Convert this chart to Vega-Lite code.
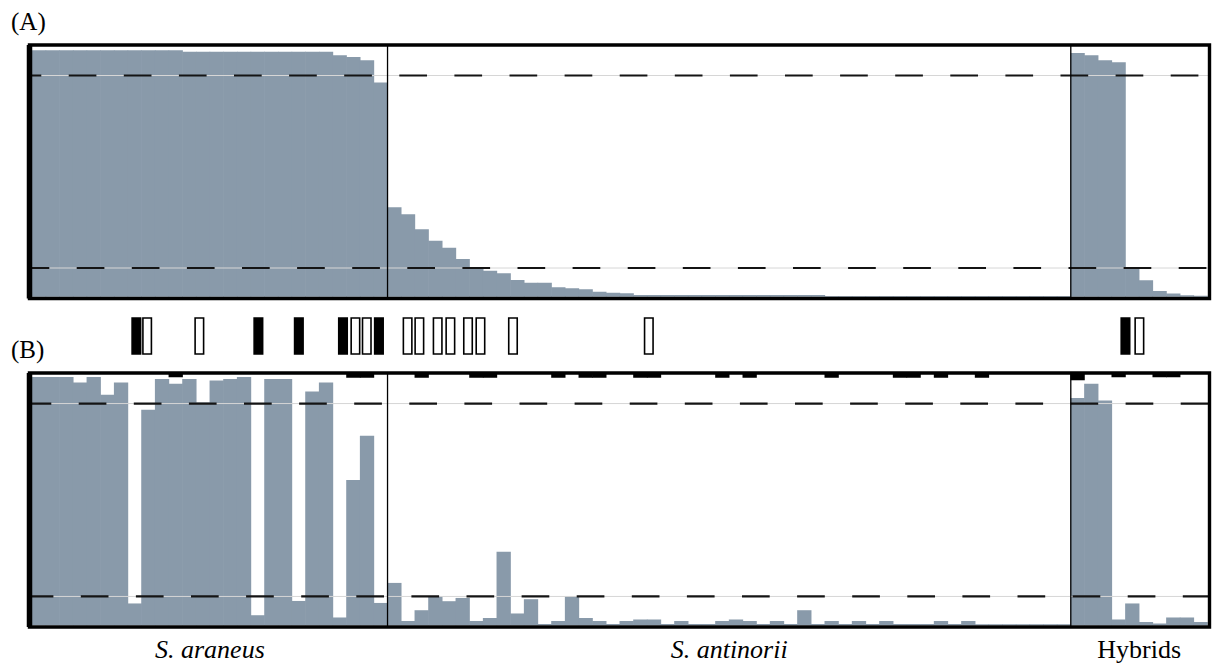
{
  "$schema": "https://vega.github.io/schema/vega-lite/v6.json",
  "background": "white",
  "padding": {"left": 10.5, "top": 10, "right": 2, "bottom": 0},
  "bounds": "flush",
  "spacing": 19,
  "config": {"view": {"stroke": null}},
  "datasets": {
    "A": [
      {"i":0,"q":0.986},{"i":1,"q":0.986},{"i":2,"q":0.986},{"i":3,"q":0.986},{"i":4,"q":0.986},{"i":5,"q":0.986},{"i":6,"q":0.986},{"i":7,"q":0.986},{"i":8,"q":0.986},{"i":9,"q":0.986},{"i":10,"q":0.986},
      {"i":11,"q":0.98},{"i":12,"q":0.98},{"i":13,"q":0.98},{"i":14,"q":0.98},{"i":15,"q":0.98},{"i":16,"q":0.98},{"i":17,"q":0.98},{"i":18,"q":0.98},{"i":19,"q":0.98},{"i":20,"q":0.98},{"i":21,"q":0.98},
      {"i":22,"q":0.966},{"i":23,"q":0.959},{"i":24,"q":0.946},{"i":25,"q":0.857},
      {"i":26,"q":0.358},{"i":27,"q":0.33},{"i":28,"q":0.27},{"i":29,"q":0.224},{"i":30,"q":0.196},{"i":31,"q":0.151},{"i":32,"q":0.114},{"i":33,"q":0.104},{"i":34,"q":0.094},{"i":35,"q":0.067},{"i":36,"q":0.056},{"i":37,"q":0.056},{"i":38,"q":0.038},{"i":39,"q":0.034},{"i":40,"q":0.03},{"i":41,"q":0.02},{"i":42,"q":0.016},{"i":43,"q":0.014},
      {"i":44,"q":0.007},{"i":45,"q":0.007},{"i":46,"q":0.007},{"i":47,"q":0.007},{"i":48,"q":0.007},{"i":49,"q":0.007},{"i":50,"q":0.007},{"i":51,"q":0.007},{"i":52,"q":0.007},{"i":53,"q":0.007},{"i":54,"q":0.007},{"i":55,"q":0.007},{"i":56,"q":0.007},{"i":57,"q":0.007},
      {"i":58,"q":0.003},{"i":59,"q":0.003},{"i":60,"q":0.003},{"i":61,"q":0.003},{"i":62,"q":0.003},{"i":63,"q":0.003},{"i":64,"q":0.003},{"i":65,"q":0.003},{"i":66,"q":0.003},{"i":67,"q":0.003},{"i":68,"q":0.003},{"i":69,"q":0.003},{"i":70,"q":0.003},{"i":71,"q":0.003},{"i":72,"q":0.003},{"i":73,"q":0.003},{"i":74,"q":0.003},{"i":75,"q":0.003},
      {"i":76,"q":0.975},{"i":77,"q":0.966},{"i":78,"q":0.946},{"i":79,"q":0.938},{"i":80,"q":0.119},{"i":81,"q":0.066},{"i":82,"q":0.023},{"i":83,"q":0.013},{"i":84,"q":0.006},{"i":85,"q":0.004}
    ],
    "B": [
      {"i":0,"q":0.991},{"i":1,"q":0.991},{"i":2,"q":0.991},{"i":3,"q":0.969},{"i":4,"q":0.991},{"i":5,"q":0.92},{"i":6,"q":0.969},{"i":7,"q":0.087},{"i":8,"q":0.86},{"i":9,"q":0.983},
      {"i":10,"q":0.964,"kc":0.99},{"i":11,"q":0.983},{"i":12,"q":0.889},{"i":13,"q":0.977},{"i":14,"q":0.983},{"i":15,"q":0.991},{"i":16,"q":0.04},{"i":17,"q":0.983},{"i":18,"q":0.983},{"i":19,"q":0.097},
      {"i":20,"q":0.933},{"i":21,"q":0.969},{"i":22,"q":0.031},{"i":23,"q":0.58,"kc":0.988},{"i":24,"q":0.756,"kc":0.988},{"i":25,"q":0.089},
      {"i":26,"q":0.169},{"i":27,"q":0.017},{"i":28,"q":0.06,"kc":0.988},{"i":29,"q":0.116},{"i":30,"q":0.096},{"i":31,"q":0.109},{"i":32,"q":0.017,"kc":0.988},{"i":33,"q":0.029,"kc":0.988},{"i":34,"q":0.293},{"i":35,"q":0.047},
      {"i":36,"q":0.104},{"i":37,"q":0.005},{"i":38,"q":0.017,"kc":0.988},{"i":39,"q":0.116},{"i":40,"q":0.029,"kc":0.988},{"i":41,"q":0.017,"kc":0.988},{"i":42,"q":0.005},{"i":43,"q":0.017},{"i":44,"q":0.023,"kc":0.988},{"i":45,"q":0.023,"kc":0.988},
      {"i":46,"q":0.005},{"i":47,"q":0.017},{"i":48,"q":0.005},{"i":49,"q":0.005},{"i":50,"q":0.017,"kc":0.988},{"i":51,"q":0.023},{"i":52,"q":0.017,"kc":0.988},{"i":53,"q":0.005},{"i":54,"q":0.017},{"i":55,"q":0.005},
      {"i":56,"q":0.06},{"i":57,"q":0.005},{"i":58,"q":0.017,"kc":0.988},{"i":59,"q":0.005},{"i":60,"q":0.017},{"i":61,"q":0.005},{"i":62,"q":0.017},{"i":63,"q":0.005,"kc":0.988},{"i":64,"q":0.005,"kc":0.988},{"i":65,"q":0.005},
      {"i":66,"q":0.017,"kc":0.988},{"i":67,"q":0.005},{"i":68,"q":0.017},{"i":69,"q":0.004,"kc":0.988},{"i":70,"q":0.004},{"i":71,"q":0.004},{"i":72,"q":0.004},{"i":73,"q":0.004},{"i":74,"q":0.004},{"i":75,"q":0.004},
      {"i":76,"q":0.907,"kc":0.978},{"i":77,"q":0.964},{"i":78,"q":0.897},{"i":79,"q":0.023,"kc":0.99},{"i":80,"q":0.087},{"i":81,"q":0.013},{"i":82,"q":0.007,"kc":0.99},{"i":83,"q":0.031,"kc":0.99},{"i":84,"q":0.031},{"i":85,"q":0.013}
    ],
    "M": [
      {"pos":7.12,"type":"filled"},{"pos":7.91,"type":"open"},{"pos":11.73,"type":"open"},{"pos":16.05,"type":"filled"},{"pos":19.01,"type":"filled"},
      {"pos":22.24,"type":"filled"},{"pos":23.15,"type":"open"},{"pos":23.98,"type":"open"},{"pos":24.87,"type":"filled"},
      {"pos":26.97,"type":"open"},{"pos":27.83,"type":"open"},{"pos":29.17,"type":"open"},{"pos":30.1,"type":"open"},{"pos":31.39,"type":"open"},{"pos":32.3,"type":"open"},
      {"pos":34.68,"type":"open"},{"pos":44.62,"type":"open"},{"pos":79.5,"type":"filled"},{"pos":80.52,"type":"open"}
    ],
    "L": [
      {"c":12.5,"label":"S. araneus","group":"species"},
      {"c":50.5,"label":"S. antinorii","group":"species"},
      {"c":80.5,"label":"Hybrids","group":"hybrid"}
    ]
  },
  "vconcat": [
    {
      "width": 1180,
      "height": 253.5,
      "layer": [
        {
          "data": {"name": "A"},
          "mark": {"type": "bar", "color": "#899aaa", "width": 14.3, "orient": "vertical"},
          "encoding": {
            "x": {"field": "i", "type": "quantitative", "scale": {"domain": [-0.7, 85.65], "nice": false, "zero": false, "padding": 0}, "axis": null},
            "y": {"field": "q", "type": "quantitative", "scale": {"domain": [-0.007, 1.007], "nice": false, "zero": false}, "axis": null}
          }
        },
        {"data": {"values": [{}]}, "mark": {"type": "rule", "color": "#d6d6d6", "strokeWidth": 1}, "encoding": {"y": {"datum": 0.885, "type": "quantitative", "axis": null}}},
        {"data": {"values": [{}]}, "mark": {"type": "rule", "color": "#d6d6d6", "strokeWidth": 1}, "encoding": {"y": {"datum": 0.115, "type": "quantitative", "axis": null}}},
        {"data": {"values": [{}]}, "mark": {"type": "rule", "color": "#141414", "strokeWidth": 2.2, "strokeDash": [27.7, 27.4], "strokeDashOffset": 44}, "encoding": {"y": {"datum": 0.885, "type": "quantitative", "axis": null}}},
        {"data": {"values": [{}]}, "mark": {"type": "rule", "color": "#141414", "strokeWidth": 2.2, "strokeDash": [27.7, 27.4], "strokeDashOffset": 52}, "encoding": {"y": {"datum": 0.115, "type": "quantitative", "axis": null}}},
        {"data": {"values": [{}]}, "mark": {"type": "rule", "color": "black", "strokeWidth": 1.3}, "encoding": {"x": {"datum": 25.5, "type": "quantitative", "axis": null}}},
        {"data": {"values": [{}]}, "mark": {"type": "rule", "color": "black", "strokeWidth": 1.3}, "encoding": {"x": {"datum": 75.5, "type": "quantitative", "axis": null}}},
        {"data": {"values": [{}]}, "mark": {"type": "rect", "fill": "transparent", "stroke": "black", "strokeWidth": 3.4}, "encoding": {"x": {"datum": -0.7, "type": "quantitative", "axis": null}, "x2": {"datum": 85.65}, "y": {"datum": -0.007, "type": "quantitative", "axis": null}, "y2": {"datum": 1.007}}},
        {"data": {"values": [{}]}, "mark": {"type": "rule", "color": "black", "strokeWidth": 5.5}, "encoding": {"x": {"datum": -0.7, "type": "quantitative", "axis": null}}},
        {"data": {"values": [{}]}, "mark": {"type": "text", "text": "(A)", "align": "left", "baseline": "alphabetic", "font": "Liberation Serif", "fontSize": 25, "color": "black", "dx": -18.5, "dy": -15}, "encoding": {"x": {"datum": -0.7, "type": "quantitative", "axis": null}, "y": {"datum": 1.007, "type": "quantitative", "axis": null}}}
      ]
    },
    {
      "width": 1180,
      "height": 36,
      "layer": [
        {
          "data": {"name": "M"},
          "mark": {"type": "bar", "width": 8.5, "stroke": "black", "strokeWidth": 1.6, "orient": "vertical"},
          "encoding": {
            "x": {"field": "pos", "type": "quantitative", "scale": {"domain": [-0.7, 85.65], "nice": false, "zero": false, "padding": 0}, "axis": null},
            "y": {"datum": 0, "type": "quantitative", "scale": {"domain": [0, 1], "nice": false}, "axis": null},
            "y2": {"datum": 1},
            "fill": {"field": "type", "type": "nominal", "scale": {"domain": ["filled", "open"], "range": ["black", "white"]}, "legend": null}
          }
        },
        {"data": {"values": [{}]}, "mark": {"type": "text", "text": "(B)", "align": "left", "baseline": "alphabetic", "font": "Liberation Serif", "fontSize": 25, "color": "black", "dx": -18.5, "dy": 4}, "encoding": {"x": {"datum": -0.7, "type": "quantitative", "axis": null}, "y": {"datum": 0, "type": "quantitative", "axis": null}}}
      ]
    },
    {
      "width": 1180,
      "height": 254,
      "layer": [
        {
          "data": {"name": "B"},
          "mark": {"type": "bar", "color": "#899aaa", "width": 14.3, "orient": "vertical"},
          "encoding": {
            "x": {"field": "i", "type": "quantitative", "scale": {"domain": [-0.7, 85.65], "nice": false, "zero": false, "padding": 0}, "axis": null},
            "y": {"field": "q", "type": "quantitative", "scale": {"domain": [-0.007, 1.007], "nice": false, "zero": false}, "axis": null}
          }
        },
        {
          "data": {"name": "B"},
          "transform": [{"filter": "isValid(datum.kc)"}],
          "mark": {"type": "bar", "color": "black", "width": 14.3, "orient": "vertical"},
          "encoding": {
            "x": {"field": "i", "type": "quantitative", "axis": null},
            "y": {"field": "kc", "type": "quantitative", "axis": null},
            "y2": {"datum": 1.007}
          }
        },
        {"data": {"values": [{}]}, "mark": {"type": "rule", "color": "#d6d6d6", "strokeWidth": 1}, "encoding": {"y": {"datum": 0.885, "type": "quantitative", "axis": null}}},
        {"data": {"values": [{}]}, "mark": {"type": "rule", "color": "#d6d6d6", "strokeWidth": 1}, "encoding": {"y": {"datum": 0.115, "type": "quantitative", "axis": null}}},
        {"data": {"values": [{}]}, "mark": {"type": "rule", "color": "#141414", "strokeWidth": 2.2, "strokeDash": [27.7, 27.4], "strokeDashOffset": 54}, "encoding": {"y": {"datum": 0.885, "type": "quantitative", "axis": null}}},
        {"data": {"values": [{}]}, "mark": {"type": "rule", "color": "#141414", "strokeWidth": 2.2, "strokeDash": [27.7, 27.4], "strokeDashOffset": 1}, "encoding": {"y": {"datum": 0.115, "type": "quantitative", "axis": null}}},
        {"data": {"values": [{}]}, "mark": {"type": "rule", "color": "black", "strokeWidth": 1.3}, "encoding": {"x": {"datum": 25.5, "type": "quantitative", "axis": null}}},
        {"data": {"values": [{}]}, "mark": {"type": "rule", "color": "black", "strokeWidth": 1.3}, "encoding": {"x": {"datum": 75.5, "type": "quantitative", "axis": null}}},
        {"data": {"values": [{}]}, "mark": {"type": "rect", "fill": "transparent", "stroke": "black", "strokeWidth": 3.4}, "encoding": {"x": {"datum": -0.7, "type": "quantitative", "axis": null}, "x2": {"datum": 85.65}, "y": {"datum": -0.007, "type": "quantitative", "axis": null}, "y2": {"datum": 1.007}}},
        {"data": {"values": [{}]}, "mark": {"type": "rule", "color": "black", "strokeWidth": 5.5}, "encoding": {"x": {"datum": -0.7, "type": "quantitative", "axis": null}}},
        {
          "data": {"name": "L"},
          "transform": [{"filter": "datum.group === 'species'"}],
          "mark": {"type": "text", "align": "center", "baseline": "alphabetic", "font": "Liberation Serif", "fontSize": 26, "fontStyle": "italic", "color": "black", "dy": 31},
          "encoding": {"x": {"field": "c", "type": "quantitative", "axis": null}, "y": {"datum": -0.007, "type": "quantitative", "axis": null}, "text": {"field": "label"}}
        },
        {
          "data": {"name": "L"},
          "transform": [{"filter": "datum.group === 'hybrid'"}],
          "mark": {"type": "text", "align": "center", "baseline": "alphabetic", "font": "Liberation Serif", "fontSize": 26, "color": "black", "dy": 31},
          "encoding": {"x": {"field": "c", "type": "quantitative", "axis": null}, "y": {"datum": -0.007, "type": "quantitative", "axis": null}, "text": {"field": "label"}}
        }
      ]
    }
  ]
}
